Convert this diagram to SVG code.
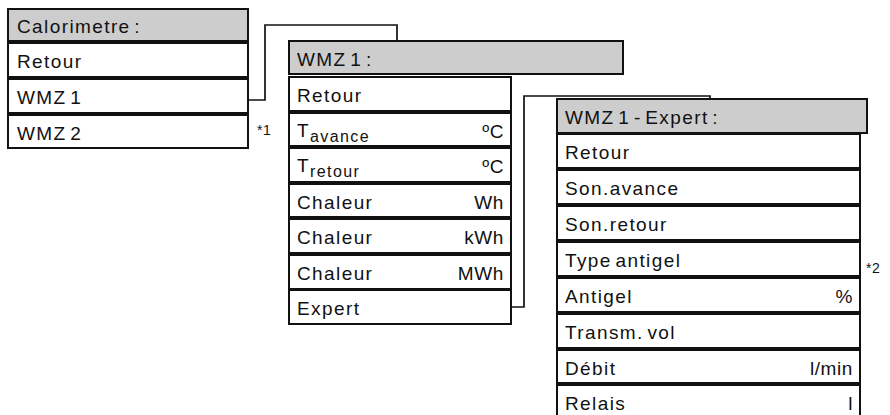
<svg xmlns="http://www.w3.org/2000/svg" width="890" height="415" viewBox="0 0 890 415">
<style>
rect{stroke:#111;stroke-width:2;fill:#fff}
rect.h{fill:#cdcdcd}
text{font-family:"Liberation Sans",Arial,sans-serif;font-size:19px;fill:#111;letter-spacing:1.4px;word-spacing:-3px}
text.u{text-anchor:end;letter-spacing:0.6px}
text.n{font-size:14px;letter-spacing:0.5px;word-spacing:0}
.c{fill:none;stroke:#111;stroke-width:1.7}
</style>
<g id="connectors">
<polyline class="c" points="248,100 265,100 265,25 397,25 397,41"/>
<polyline class="c" points="511,307 524,307 524,96 710,96 710,99"/>
</g>
<g id="calorimetre">
<rect class="h" x="8" y="9" width="240" height="32"/>
<text x="17" y="33">Calorimetre :</text>
<rect x="8" y="43" width="240" height="34"/><text x="17" y="68">Retour</text>
<rect x="8" y="79" width="240" height="34"/><text x="17" y="104">WMZ 1</text>
<rect x="8" y="115" width="240" height="33"/><text x="17" y="140">WMZ 2</text>
</g>
<text class="n" x="257" y="135">*1</text>
<g id="wmz1">
<rect class="h" x="289" y="41" width="334" height="33"/>
<text x="297" y="66">WMZ 1 :</text>
<rect x="289" y="77" width="222" height="34"/><text x="297" y="102">Retour</text>
<rect x="289" y="113" width="222" height="33"/><text x="297" y="137">T<tspan font-size="16" dy="5">avance</tspan></text><text class="u" x="504" y="138">ºC</text>
<rect x="289" y="148" width="222" height="34"/><text x="297" y="172">T<tspan font-size="16" dy="5">retour</tspan></text><text class="u" x="504" y="173">ºC</text>
<rect x="289" y="184" width="222" height="33"/><text x="297" y="209">Chaleur</text><text class="u" x="504" y="209">Wh</text>
<rect x="289" y="219" width="222" height="34"/><text x="297" y="244">Chaleur</text><text class="u" x="504" y="244">kWh</text>
<rect x="289" y="255" width="222" height="34"/><text x="297" y="280">Chaleur</text><text class="u" x="504" y="280">MWh</text>
<rect x="289" y="290" width="222" height="34"/><text x="297" y="315">Expert</text>
</g>
<g id="wmz1-expert">
<rect class="h" x="557" y="99" width="310" height="34"/>
<text x="565" y="124">WMZ 1 - Expert :</text>
<rect x="557" y="134" width="303" height="34"/><text x="565" y="159">Retour</text>
<rect x="557" y="170" width="303" height="34"/><text x="565" y="195">Son.avance</text>
<rect x="557" y="206" width="303" height="34"/><text x="565" y="231">Son.retour</text>
<rect x="557" y="242" width="303" height="34"/><text x="565" y="267">Type antigel</text>
<rect x="557" y="278" width="303" height="34"/><text x="565" y="303">Antigel</text><text class="u" x="853" y="303">%</text>
<rect x="557" y="314" width="303" height="34"/><text x="565" y="339">Transm. vol</text>
<rect x="557" y="350" width="303" height="33"/><text x="565" y="375">Débit</text><text class="u" x="853" y="375">l/min</text>
<rect x="557" y="385" width="303" height="36"/><text x="565" y="410">Relais</text><text class="u" x="853" y="410">l</text>
</g>
<text class="n" x="866" y="273">*2</text>
</svg>
